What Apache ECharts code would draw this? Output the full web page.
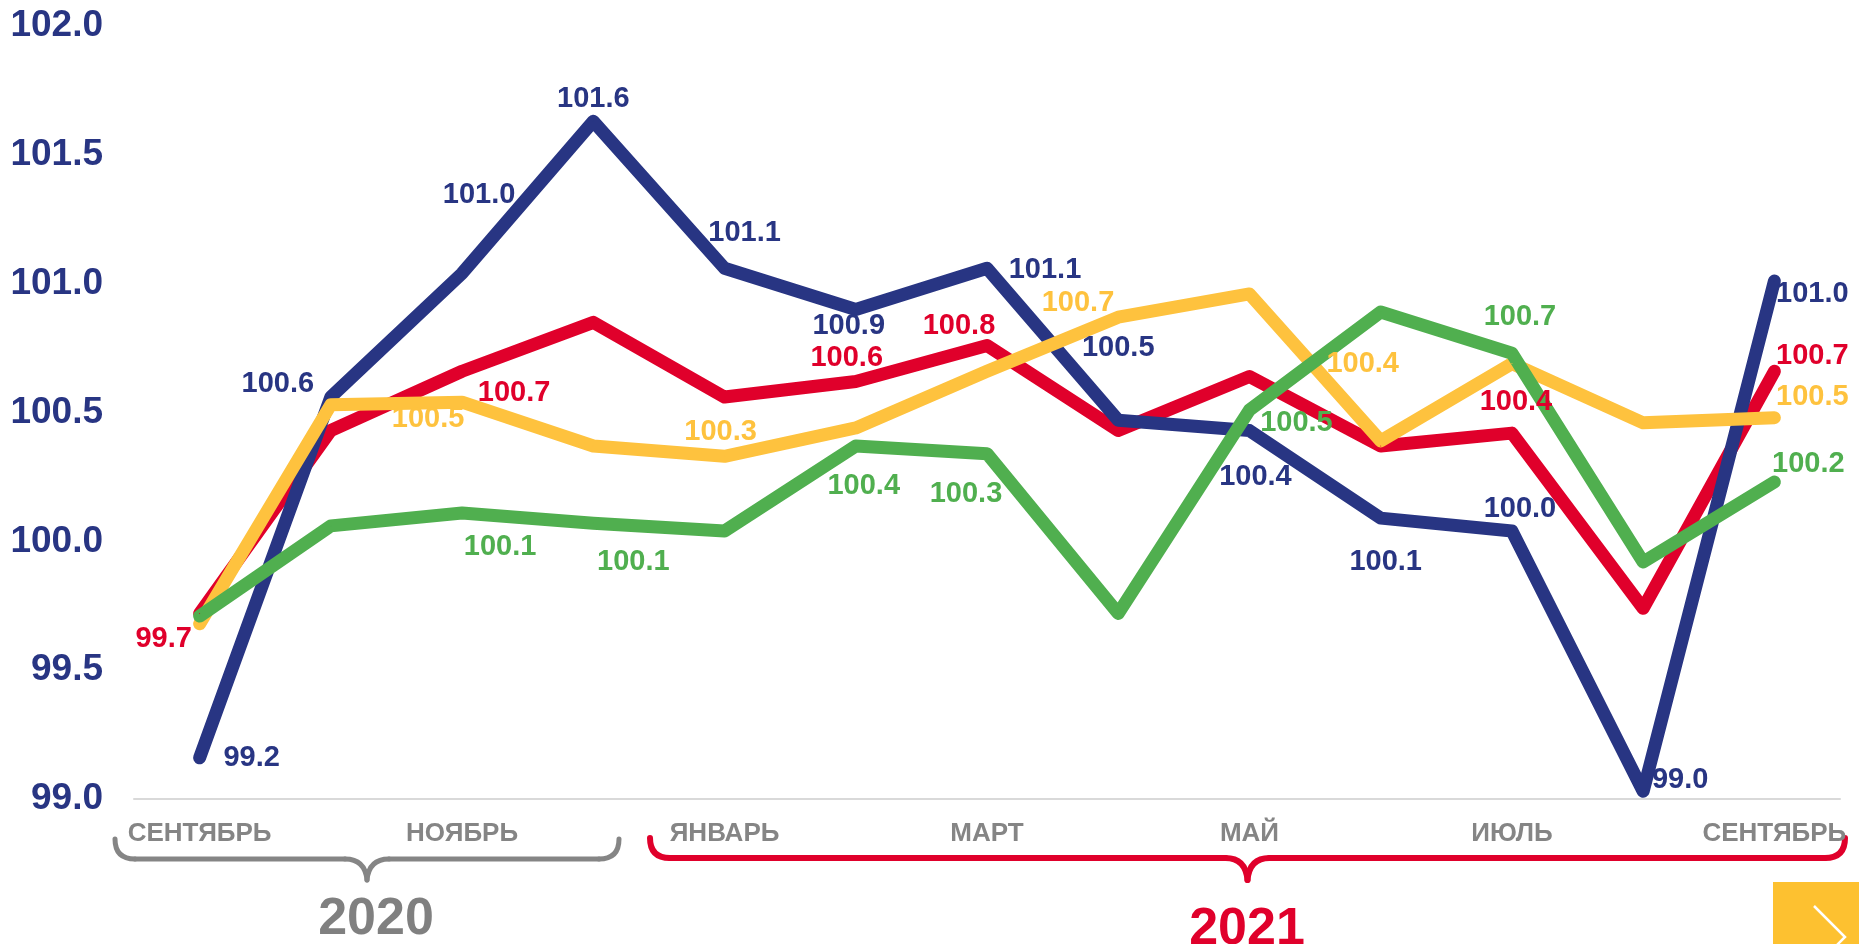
<!DOCTYPE html>
<html>
<head>
<meta charset="utf-8">
<script src="https://cdn.jsdelivr.net/npm/echarts@6/dist/echarts.min.js"></script>
<style>
  html, body { margin: 0; padding: 0; background: #ffffff; }
  #chart { width: 1859px; height: 944px; }
</style>
</head>
<body>
<div id="chart"></div>
<script>
// ---- data ----
const categories = ['СЕНТЯБРЬ', 'ОКТЯБРЬ', 'НОЯБРЬ', 'ДЕКАБРЬ', 'ЯНВАРЬ', 'ФЕВРАЛЬ', 'МАРТ', 'АПРЕЛЬ', 'МАЙ', 'ИЮНЬ', 'ИЮЛЬ', 'АВГУСТ', 'СЕНТЯБРЬ'];
const yearLabels = ['2020', '2021'];
const yTicks = [99.0, 99.5, 100.0, 100.5, 101.0, 101.5, 102.0];
const seriesBlue   = [99.16, 100.56, 101.04, 101.63, 101.06, 100.90, 101.06, 100.47, 100.43, 100.09, 100.04, 99.03, 101.01];
const seriesRed    = [99.72, 100.43, 100.66, 100.85, 100.56, 100.62, 100.76, 100.43, 100.64, 100.37, 100.42, 99.74, 100.66];
const seriesYellow = [99.68, 100.53, 100.54, 100.37, 100.33, 100.44, 100.66, 100.87, 100.96, 100.39, 100.69, 100.46, 100.48];
const seriesGreen  = [99.71, 100.06, 100.11, 100.07, 100.04, 100.37, 100.34, 99.72, 100.51, 100.89, 100.73, 99.92, 100.23];

// ---- label placement (style, not data): offset of each value label from its point, null = no label ----
const offBlue   = [[52,0],[-53,-13],[17,-78],[0,-22],[20,-35],[-7,17],[58,2],[0,-72],[6,46],[5,44],[8,-22],[37,-11],[38,13]];
const offRed    = [[-36,26],null,[52,22],null,null,[-9,-24],[-28,-20],null,null,null,[4,-31],null,[38,-15]];
const offYellow = [null,null,[-34,17],null,[-4,-24],null,[91,-68],null,null,[-18,-77],null,null,[38,-21]];
const offGreen  = [null,null,[38,34],[40,39],null,[8,40],[-21,40],null,[47,13],null,[8,-36],null,[34,-18]];

const FONT = "'Liberation Sans', Arial, sans-serif";
const C_BLUE = '#283583', C_RED = '#e0002b', C_YEL = '#fec23e', C_GRN = '#50af4f';

function mkData(vals, offs) {
  return vals.map((v, i) => {
    const o = offs[i];
    return o ? { value: v, label: { show: true, offset: o } } : { value: v, label: { show: false } };
  });
}
function mkSeries(name, vals, offs, color) {
  return {
    name: name, type: 'line', data: mkData(vals, offs),
    symbol: 'circle', symbolSize: 1, showSymbol: true, showAllSymbol: true,
    itemStyle: { color: color },
    lineStyle: { color: color, width: 13, cap: 'round', join: 'round' },
    label: {
      show: true, position: 'inside', color: color, fontFamily: FONT,
      fontSize: 29, fontWeight: 'bold',
      formatter: p => p.value.toFixed(1)
    },
    emphasis: { disabled: true }
  };
}

// brace made of straight and quadratic pieces
function brace(x0, x1, yTop, yH, yTip, color, w) {
  const xm = (x0 + x1) / 2, r = 20;
  const st = { stroke: color, lineWidth: w, fill: null, lineCap: 'round' };
  return [
    { type: 'bezierCurve', shape: { x1: x0, y1: yTop, cpx1: x0, cpy1: yH, x2: x0 + r, y2: yH }, style: st },
    { type: 'line', shape: { x1: x0 + r, y1: yH, x2: xm - 22, y2: yH }, style: st },
    { type: 'bezierCurve', shape: { x1: xm - 22, y1: yH, cpx1: xm - 2, cpy1: yH, x2: xm, y2: yTip }, style: st },
    { type: 'bezierCurve', shape: { x1: xm, y1: yTip, cpx1: xm + 2, cpy1: yH, x2: xm + 22, y2: yH }, style: st },
    { type: 'line', shape: { x1: xm + 22, y1: yH, x2: x1 - r, y2: yH }, style: st },
    { type: 'bezierCurve', shape: { x1: x1 - r, y1: yH, cpx1: x1, cpy1: yH, x2: x1, y2: yTop }, style: st }
  ];
}

const chart = echarts.init(document.getElementById('chart'), null, { renderer: 'canvas' });
chart.setOption({
  animation: false,
  backgroundColor: '#ffffff',
  grid: { left: 134, right: 19, top: 26, bottom: 145, containLabel: false },
  xAxis: {
    type: 'category', data: categories, boundaryGap: true,
    axisLine: { show: true, lineStyle: { color: '#d9d9d9', width: 2 } },
    axisTick: { show: false },
    axisLabel: { interval: 1, color: '#858585', fontFamily: FONT, fontSize: 26, fontWeight: 'bold', margin: 22 },
    splitLine: { show: false }
  },
  yAxis: {
    type: 'value', min: yTicks[0], max: yTicks[yTicks.length - 1], interval: 0.5,
    axisLine: { show: false }, axisTick: { show: false }, splitLine: { show: false },
    axisLabel: { color: C_BLUE, fontFamily: FONT, fontSize: 37, fontWeight: 'bold', margin: 31,
                 formatter: v => v.toFixed(1) }
  },
  series: [
    mkSeries('Ряд 2', seriesRed, offRed, C_RED),
    mkSeries('Ряд 1', seriesBlue, offBlue, C_BLUE),
    mkSeries('Ряд 3', seriesYellow, offYellow, C_YEL),
    mkSeries('Ряд 4', seriesGreen, offGreen, C_GRN)
  ],
  graphic: [].concat(
    brace(115, 619, 839, 859, 880, '#858585', 5),
    brace(650, 1845, 838, 858, 880, '#e0002b', 6),
    [
      { type: 'text', style: { text: yearLabels[0], x: 376, y: 920, align: 'center', verticalAlign: 'middle',
        fill: '#808080', font: "bold 52px 'Liberation Sans', Arial, sans-serif" } },
      { type: 'text', style: { text: yearLabels[1], x: 1247, y: 930, align: 'center', verticalAlign: 'middle',
        fill: '#e0002b', font: "bold 52px 'Liberation Sans', Arial, sans-serif" } },
      { type: 'rect', shape: { x: 1773, y: 882, width: 86, height: 62 }, style: { fill: '#fdc130' } },
      { type: 'polyline', shape: { points: [[1814, 906], [1845, 937], [1814, 968]] },
        style: { stroke: '#ffffff', lineWidth: 2.5, fill: null } }
    ]
  )
});
</script>
</body>
</html>
